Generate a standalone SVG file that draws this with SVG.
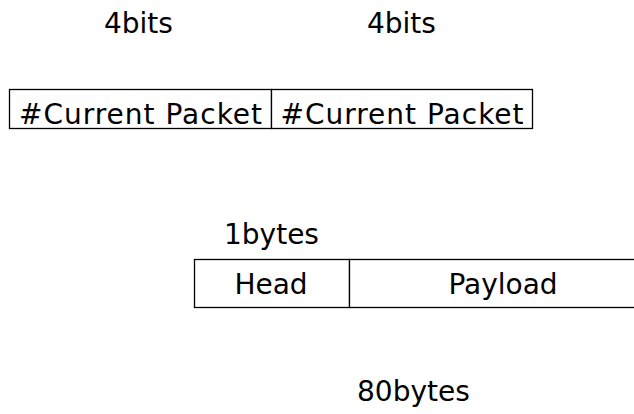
<svg xmlns="http://www.w3.org/2000/svg" width="634" height="414" viewBox="0 0 634 414">
<style>
text{font-family:"DejaVu Sans","Verdana",sans-serif;font-size:28px;fill:#000}
.box{fill:#fff;stroke:#000;stroke-width:1.3}
.cp{letter-spacing:1px}
</style>
<rect width="634" height="414" fill="#fff"/>
<g id="label-4bits-1"><text x="104" y="33">4bits</text></g>
<g id="label-4bits-2"><text x="367" y="33">4bits</text></g>
<g id="cell-current-1"><rect class="box" x="9.5" y="89.5" width="262" height="39"/><text class="cp" x="141" y="124" text-anchor="middle">#Current Packet</text></g>
<g id="cell-current-2"><rect class="box" x="271.5" y="89.5" width="261" height="39"/><text class="cp" x="402.5" y="124" text-anchor="middle">#Current Packet</text></g>
<g id="label-1bytes"><text x="224" y="244">1bytes</text></g>
<g id="cell-head"><rect class="box" x="194.5" y="259.5" width="155" height="48"/><text x="271" y="294" text-anchor="middle">Head</text></g>
<g id="cell-payload"><rect class="box" x="349.5" y="259.5" width="300" height="48"/><text x="503" y="294" text-anchor="middle">Payload</text></g>
<g id="label-80bytes"><text x="357" y="401">80bytes</text></g>
<g id="connectors"/>
</svg>
